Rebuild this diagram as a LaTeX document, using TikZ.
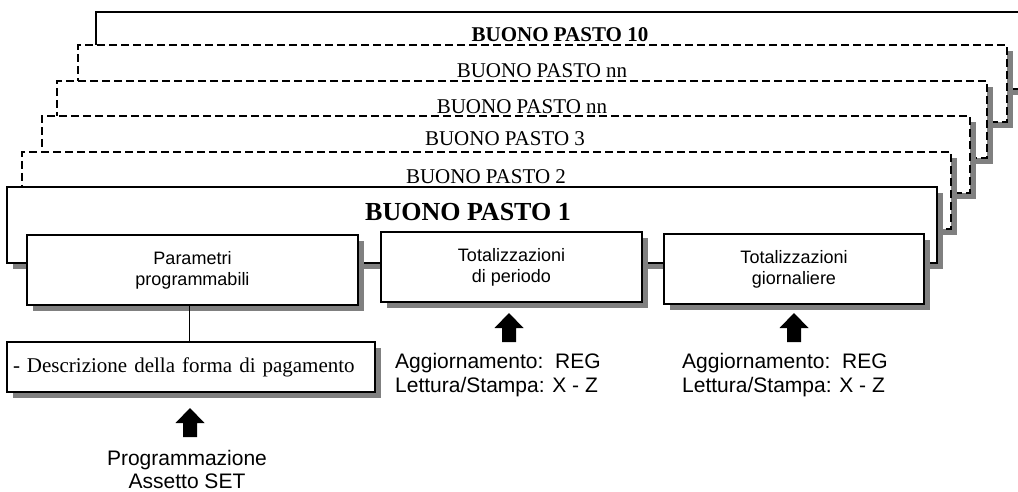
\documentclass[tikz,border=0pt]{standalone}
\usepackage{fontspec}
\setmainfont{Liberation Serif}
\setsansfont{Liberation Sans}
\usetikzlibrary{shadows}
\definecolor{shadowgray}{HTML}{808080}
\tikzset{
  base/.style={inner sep=0pt, outer sep=0pt, anchor=north west, fill=white,
    drop shadow={shadow xshift=6pt, shadow yshift=-6pt, fill=shadowgray, opacity=1}},
  cardsolid/.style={base, draw, line width=1.6pt},
  carddash/.style={base, draw, line width=1.4pt, dash pattern=on 8pt off 4pt},
  box/.style={base, draw, line width=1.6pt, align=center, font=\sffamily\fontsize{18}{21}\selectfont},
  title/.style={anchor=base, inner sep=0pt, font=\fontsize{21}{24}\selectfont},
  info/.style={anchor=base west, inner sep=0pt, font=\sffamily\fontsize{21}{24}\selectfont},
  uparrow/.pic={\fill (-7,0) -- (-7,-14) -- (-14.5,-14) -- (0,-29) -- (14.5,-14) -- (7,-14) -- (7,0) -- cycle;}
}
\begin{document}
\begin{tikzpicture}[x=1pt,y=-1pt]
\useasboundingbox (0,0) rectangle (1018,492);
\clip (0,0) rectangle (1018,492);
% stacked cards, back to front
\node[cardsolid, minimum width=934pt, minimum height=77pt] (c10) at (96,12) {};
\node[carddash, minimum width=929pt, minimum height=77pt] (cnna) at (78,45) {};
\node[carddash, minimum width=930pt, minimum height=77pt] (cnnb) at (57,81) {};
\node[carddash, minimum width=928pt, minimum height=77pt] (c3) at (42,116) {};
\node[carddash, minimum width=929pt, minimum height=77pt] (c2) at (22,152) {};
\node[cardsolid, minimum width=930pt, minimum height=76pt] (c1) at (7,187) {};
% titles
\node[title, font=\bfseries\fontsize{21}{24}\selectfont] (t10) at (560,42) {BUONO PASTO 10};
\node[title] (tnna) at (542,78) {BUONO PASTO nn};
\node[title] (tnnb) at (522,114) {BUONO PASTO nn};
\node[title] (t3) at (505,146) {BUONO PASTO 3};
\node[title] (t2) at (486,183) {BUONO PASTO 2};
\node[title, font=\bfseries\fontsize{26}{30}\selectfont] (t1) at (468,221) {BUONO PASTO 1};
% inner boxes
\node[box, minimum width=331pt, minimum height=70pt] (par) at (27,235) {Parametri\\programmabili};
\node[box, minimum width=261pt, minimum height=70pt] (per) at (381,232) {Totalizzazioni\\di periodo};
\node[box, minimum width=260pt, minimum height=70pt] (gio) at (664,234) {Totalizzazioni\\giornaliere};
\node[base, draw, line width=1.6pt, minimum width=368pt, minimum height=50pt,
      font=\fontsize{21}{24}\selectfont, text width=360pt, align=left] (desc) at (7,342)
      {\hspace*{2pt}- Descrizione della forma di pagamento};
\draw[line width=1pt] ([xshift=-3pt]par.south) -- ([xshift=-3pt]par.south |- desc.north);
% arrows
\coordinate (a1) at (190,437);
\coordinate (a2) at (509,342);
\coordinate (a3) at (794,342);
\pic at (a1) {uparrow};
\pic at (a2) {uparrow};
\pic at (a3) {uparrow};
% texts
\node[info] (i1a) at (395,368) {Aggiornamento:\ \ REG};
\node[info] (i1b) at (395,392) {Lettura/Stampa: X - Z};
\node[info] (i2a) at (682,368) {Aggiornamento:\ \ REG};
\node[info] (i2b) at (682,392) {Lettura/Stampa: X - Z};
\node[info, anchor=base] (proga) at (187,465) {Programmazione};
\node[info, anchor=base] (progb) at (187,488) {Assetto SET};
\end{tikzpicture}
\end{document}
